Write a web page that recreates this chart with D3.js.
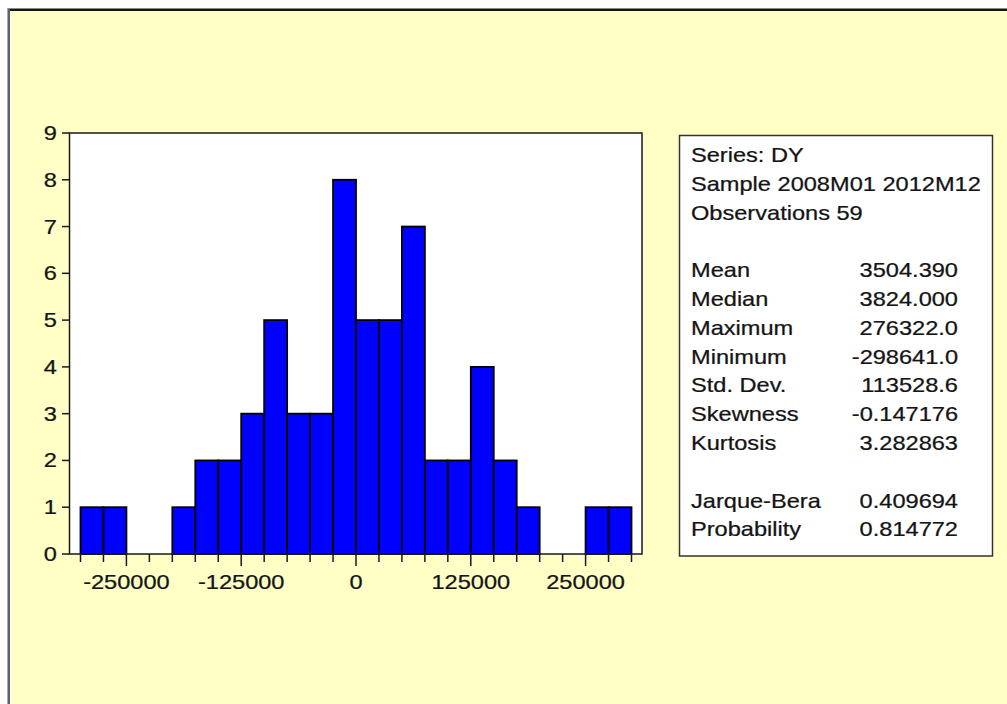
<!DOCTYPE html>
<html>
<head>
<meta charset="utf-8">
<script src="https://cdn.jsdelivr.net/npm/d3@7"></script>
<style>
  html, body { margin: 0; padding: 0; background: #ffffff; }
  svg { display: block; }
  text { font-family: "Liberation Sans", Arial, sans-serif; fill: #141414; stroke: #141414; stroke-width: 0.25; }
</style>
</head>
<body>
<div id="chart"></div>
<script>
// Histogram of DY: bin edges (width 25000) and observation counts per bin
const binStarts = [-300000, -275000, -250000, -225000, -200000, -175000, -150000, -125000,
                   -100000, -75000, -50000, -25000, 0, 25000, 50000, 75000,
                   100000, 125000, 150000, 175000, 200000, 225000, 250000, 275000];
const binWidth = 25000;
const counts = [1, 1, 0, 0, 1, 2, 2, 3,
                5, 3, 3, 8, 5, 5, 7, 2,
                2, 4, 2, 1, 0, 0, 1, 1];

const xTickLabels = [-250000, -125000, 0, 125000, 250000];
const yTicks = [0, 1, 2, 3, 4, 5, 6, 7, 8, 9];

// Descriptive statistics panel
const headerLines = ["Series: DY", "Sample 2008M01 2012M12", "Observations 59"];
const statNames = ["Mean", "Median", "Maximum", "Minimum", "Std. Dev.", "Skewness", "Kurtosis", "", "Jarque-Bera", "Probability"];
const statValues = ["3504.390", "3824.000", "276322.0", "-298641.0", "113528.6", "-0.147176", "3.282863", "", "0.409694", "0.814772"];

const W = 1007, H = 704;
const svg = d3.select("#chart").append("svg").attr("width", W).attr("height", H);

// window background and frame edges
svg.append("rect").attr("x", 0).attr("y", 0).attr("width", W).attr("height", H).attr("fill", "#ffffff");
svg.append("rect").attr("x", 9).attr("y", 10).attr("width", W - 9).attr("height", H - 10).attr("fill", "#ffffc6");
svg.append("line").attr("x1", 7).attr("x2", W).attr("y1", 8.5).attr("y2", 8.5).attr("stroke", "#8a8a8a").attr("stroke-width", 1);
svg.append("line").attr("x1", 8).attr("x2", W).attr("y1", 10).attr("y2", 10).attr("stroke", "#151515").attr("stroke-width", 2);
svg.append("line").attr("x1", 7.5).attr("x2", 7.5).attr("y1", 8).attr("y2", H).attr("stroke", "#a8aac4").attr("stroke-width", 1);
svg.append("line").attr("x1", 9).attr("x2", 9).attr("y1", 9).attr("y2", H).attr("stroke", "#5c5e80").attr("stroke-width", 2);

const sx = 1.18; // horizontal text stretch

const x = d3.scaleLinear().domain([-300000, 300000]).range([80.5, 631.5]);
const y = d3.scaleLinear().domain([0, 9]).range([554, 133]);

const plot = { left: 69.5, right: 642, top: 133, bottom: 554 };

// plot area
svg.append("rect")
  .attr("x", plot.left).attr("y", plot.top)
  .attr("width", plot.right - plot.left).attr("height", plot.bottom - plot.top)
  .attr("fill", "#ffffff");

// bars
const bins = binStarts.map((s, i) => ({ x0: s, x1: s + binWidth, n: counts[i] })).filter(d => d.n > 0);
svg.append("g").selectAll("rect").data(bins).join("rect")
  .attr("x", d => x(d.x0))
  .attr("y", d => y(d.n))
  .attr("width", d => x(d.x1) - x(d.x0))
  .attr("height", d => y(0) - y(d.n))
  .attr("fill", "#0000ff")
  .attr("stroke", "#000000")
  .attr("stroke-width", 1.8);

// plot frame
svg.append("rect")
  .attr("x", plot.left).attr("y", plot.top)
  .attr("width", plot.right - plot.left).attr("height", plot.bottom - plot.top)
  .attr("fill", "none").attr("stroke", "#1a1a1a").attr("stroke-width", 1.5);

// x axis: tick at every bin edge, longer at labelled values
const edges = binStarts.concat([binStarts[binStarts.length - 1] + binWidth]);
const xAxis = svg.append("g");
xAxis.selectAll("line").data(edges).join("line")
  .attr("x1", d => x(d)).attr("x2", d => x(d))
  .attr("y1", plot.bottom).attr("y2", d => plot.bottom + (xTickLabels.includes(d) ? 12 : 8))
  .attr("stroke", "#1a1a1a").attr("stroke-width", 1.5);
xAxis.selectAll("text").data(xTickLabels).join("text")
  .attr("transform", d => `translate(${x(d)},589) scale(${sx},1)`)
  .attr("text-anchor", "middle")
  .attr("font-size", 20)
  .text(d => String(d));

// y axis
const yAxis = svg.append("g");
yAxis.selectAll("line").data(yTicks).join("line")
  .attr("x1", plot.left - 7.5).attr("x2", plot.left)
  .attr("y1", d => y(d)).attr("y2", d => y(d))
  .attr("stroke", "#1a1a1a").attr("stroke-width", 1.5);
yAxis.selectAll("text").data(yTicks).join("text")
  .attr("transform", d => `translate(57,${y(d) + 7}) scale(${sx},1)`)
  .attr("text-anchor", "end")
  .attr("font-size", 20)
  .text(d => d);

// statistics box
svg.append("rect")
  .attr("x", 679.5).attr("y", 135.5).attr("width", 313).attr("height", 420.5)
  .attr("fill", "#ffffff").attr("stroke", "#333333").attr("stroke-width", 1.5);

const lineH = 28.8, firstBase = 162;
const stats = svg.append("g");
stats.selectAll("text.h").data(headerLines).join("text").attr("class", "h")
  .attr("transform", (d, i) => `translate(691,${firstBase + i * lineH}) scale(${sx},1)`)
  .attr("font-size", 20)
  .text(d => d);
stats.selectAll("text.n").data(statNames).join("text").attr("class", "n")
  .attr("transform", (d, i) => `translate(691,${firstBase + (i + 4) * lineH}) scale(${sx},1)`)
  .attr("font-size", 20)
  .text(d => d);
stats.selectAll("text.v").data(statValues).join("text").attr("class", "v")
  .attr("transform", (d, i) => `translate(958,${firstBase + (i + 4) * lineH}) scale(${sx},1)`)
  .attr("text-anchor", "end")
  .attr("font-size", 20)
  .text(d => d);
</script>
</body>
</html>
